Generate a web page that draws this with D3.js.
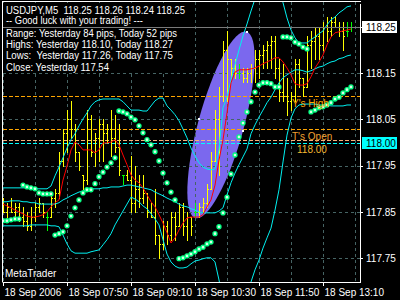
<!DOCTYPE html>
<html>
<head>
<meta charset="utf-8">
<script src="https://cdn.jsdelivr.net/npm/d3@7"></script>
<style>
  body { margin: 0; background: #000; }
  svg { display: block; }
  text { font-family: "Liberation Sans", Arial, sans-serif; }
</style>
</head>
<body>
<svg id="chart" width="400" height="300"></svg>
<script>
// ---- data (USDJPY M5, bar index 0 = 06:30) ----
const opens = [117.87,117.85,117.86,117.85,117.86,117.84,117.83,117.82,117.84,117.86,
  117.87,117.84,117.84,117.88,117.89,117.96,118.02,118.05,118.03,117.98,
  117.93,117.92,118.05,117.98,118.01,118.04,118.02,118.03,118.01,117.99,
  117.93,117.93,117.92,117.87,117.90,117.88,117.89,117.85,117.84,117.80,
  117.78,117.82,117.80,117.84,117.82,117.86,117.82,117.84,117.85,117.85,
  117.86,117.87,117.90,117.96,118.05,118.10,118.20,118.18,118.16,118.15,
  118.15,118.14,118.15,118.16,118.18,118.19,118.20,118.21,118.22,118.16,
  118.11,118.10,118.09,118.10,118.17,118.14,118.12,118.21,118.22,118.23,
  118.21,118.25,118.24,118.26,118.25,118.24,118.24,118.25];
const highs = [117.88,117.87,117.88,117.87,117.87,117.86,117.85,117.86,117.87,117.88,
  117.87,117.85,117.89,117.90,117.98,118.03,118.07,118.09,118.04,117.98,
  117.93,118.07,118.06,118.02,118.05,118.05,118.04,118.07,118.06,118.04,
  117.93,117.94,117.97,117.95,117.93,117.93,117.89,117.87,117.90,117.80,
  117.83,117.83,117.85,117.85,117.87,117.87,117.85,117.84,117.87,117.87,
  117.88,117.91,117.98,118.07,118.12,118.22,118.24,118.18,118.18,118.17,
  118.16,118.16,118.17,118.20,118.20,118.21,118.22,118.23,118.23,118.18,
  118.17,118.14,118.11,118.18,118.18,118.14,118.23,118.24,118.25,118.25,
  118.26,118.27,118.27,118.27,118.26,118.26,118.26,118.26];
const lows = [117.85,117.84,117.85,117.84,117.83,117.82,117.81,117.81,117.83,117.85,
  117.84,117.81,117.84,117.86,117.88,117.95,117.98,118.01,117.96,117.94,
  117.90,117.91,117.97,117.95,117.96,117.96,118.00,117.97,117.98,117.93,
  117.91,117.92,117.85,117.85,117.86,117.87,117.84,117.84,117.78,117.75,
  117.77,117.78,117.79,117.79,117.82,117.80,117.79,117.80,117.84,117.84,
  117.85,117.86,117.90,117.96,117.93,118.09,118.09,118.14,118.14,118.14,
  118.13,118.13,118.13,118.13,118.14,118.16,118.16,118.16,118.14,118.09,
  118.09,118.06,118.07,118.09,118.12,118.10,118.12,118.16,118.18,118.18,
  118.20,118.22,118.23,118.25,118.23,118.20,118.23,118.24];
const closes = [117.85,117.86,117.85,117.86,117.84,117.83,117.82,117.84,117.86,117.87,
  117.85,117.84,117.88,117.89,117.96,118.02,118.05,118.03,117.98,117.95,
  117.92,118.05,117.98,118.01,118.04,118.02,118.03,118.01,117.99,117.94,
  117.93,117.92,117.87,117.90,117.88,117.89,117.85,117.84,117.80,117.78,
  117.82,117.80,117.84,117.82,117.86,117.82,117.84,117.82,117.85,117.86,
  117.87,117.90,117.96,118.05,118.10,118.20,118.18,118.16,118.15,118.15,
  118.14,118.15,118.16,118.18,118.19,118.20,118.21,118.22,118.16,118.11,
  118.10,118.09,118.10,118.17,118.14,118.12,118.21,118.22,118.23,118.21,
  118.25,118.24,118.26,118.25,118.24,118.23,118.24,118.25];

// red moving average
const ma = [117.867,117.863,117.859,117.854,117.850,117.846,117.841,117.839,117.839,117.841,
  117.844,117.850,117.861,117.870,117.876,117.919,117.949,117.984,118.001,117.995,
  117.984,117.984,117.984,117.978,117.984,117.999,117.999,118.001,118.006,117.995,
  117.973,117.952,117.930,117.919,117.913,117.902,117.887,117.872,117.861,117.844,
  117.826,117.805,117.783,117.794,117.811,117.826,117.837,117.839,117.839,117.839,
  117.844,117.861,117.876,117.908,117.962,118.006,118.064,118.129,118.152,118.157,
  118.157,118.157,118.159,118.161,118.165,118.170,118.174,118.178,118.183,118.183,
  118.174,118.161,118.146,118.127,118.124,118.124,118.127,118.142,118.161,118.174,
  118.189,118.211,118.228,118.237,118.239,118.241,118.243,118.245];

// cyan bands
const bandUpper = [117.902,117.902,117.902,117.902,117.902,117.902,117.902,117.902,117.900,117.900,
  117.900,117.900,117.906,117.928,117.947,117.967,117.988,118.006,118.019,118.036,
  118.051,118.064,118.079,118.088,118.092,118.094,118.094,118.094,118.094,118.094,
  118.088,118.079,118.070,118.070,118.070,118.068,118.068,118.079,118.090,118.096,
  118.096,118.079,118.070,118.060,118.047,118.029,118.010,117.988,117.971,117.956,
  117.947,117.943,117.941,117.943,117.984,118.075,118.098,118.135,118.168,118.200,
  118.230,118.256,118.284,118.310,118.340,118.356,118.362,118.362,118.356,118.334,
  118.302,118.269,118.243,118.226,118.215,118.215,118.215,118.222,118.228,118.235,
  118.241,118.254,118.265,118.271,118.280,118.286,118.293,118.295];
const bandMiddle = [117.872,117.872,117.874,117.874,117.874,117.872,117.872,117.870,117.870,117.867,
  117.867,117.867,117.867,117.867,117.870,117.876,117.880,117.885,117.889,117.893,
  117.895,117.898,117.900,117.900,117.900,117.902,117.902,117.904,117.904,117.904,
  117.906,117.908,117.908,117.906,117.904,117.902,117.900,117.898,117.893,117.889,
  117.885,117.880,117.876,117.872,117.867,117.863,117.861,117.857,117.854,117.850,
  117.848,117.848,117.848,117.848,117.852,117.859,117.887,117.913,117.934,117.952,
  117.969,117.986,118.019,118.038,118.055,118.070,118.086,118.098,118.114,118.129,
  118.140,118.146,118.152,118.157,118.157,118.155,118.152,118.155,118.159,118.163,
  118.165,118.170,118.174,118.176,118.181,118.183,118.187,118.189];
const bandLower = [117.820,117.820,117.820,117.820,117.820,117.820,117.820,117.822,117.822,117.822,
  117.822,117.822,117.820,117.820,117.818,117.800,117.781,117.766,117.761,117.761,
  117.761,117.761,117.764,117.766,117.768,117.779,117.790,117.803,117.822,117.837,
  117.852,117.867,117.882,117.878,117.872,117.863,117.857,117.846,117.835,117.822,
  117.790,117.759,117.742,117.733,117.729,117.729,117.731,117.738,117.744,117.746,
  117.749,117.751,117.751,117.742,117.703,117.660,117.628,117.606,117.606,117.621,
  117.656,117.677,117.699,117.725,117.746,117.772,117.794,117.815,117.854,117.898,
  117.958,118.016,118.053,118.073,118.081,118.083,118.083,118.083,118.083,118.081,
  118.081,118.081,118.079,118.079,118.079,118.079,118.081,118.081];

// parabolic SAR dots
const sar = [117.831,117.831,117.833,117.835,117.835,117.908,117.904,117.902,117.900,117.891,
  117.889,117.889,117.889,117.800,117.803,117.807,117.820,117.841,117.859,117.876,
  117.891,117.898,117.898,117.911,117.926,117.936,117.947,117.956,117.967,118.068,
  118.066,118.062,118.055,118.049,118.036,118.021,118.006,117.995,117.980,117.960,
  117.934,117.913,117.893,117.876,117.749,117.751,117.755,117.759,117.764,117.770,
  117.774,117.781,117.785,117.803,117.818,117.848,117.882,117.932,117.973,118.012,
  118.042,118.066,118.088,118.109,118.124,118.129,118.129,118.127,118.120,118.120,
  118.228,118.228,118.226,118.217,118.213,118.206,118.202,118.066,118.070,118.075,
  118.077,118.081,118.086,118.094,118.098,118.107,118.114,118.120];

// axes
const priceTicks = [118.25, 118.15, 118.05, 117.95, 117.85, 117.75];
const gridBars = [0, 8, 16, 24, 32, 40, 48, 56, 64, 72, 80, 88];
const labelBars = [0, 16, 32, 48, 64, 80];
const timeLabels = ["18 Sep 2006", "18 Sep 07:50", "18 Sep 09:10", "18 Sep 10:30", "18 Sep 11:50", "18 Sep 13:10"];

// horizontal levels: yesterday high, unnamed level, today open, round level
const levelPrices = [118.10, 118.029, 118.006, 118.00];
const bidPrice = 118.25;
const markedPrice = 118.00;

// ellipse object anchors (bar index, price)
const ellipseBars = [49, 60, 61];
const ellipsePrices = [118.051, 118.025, 118.239];

const headerText = "USDJPY,M5  118.25 118.26 118.24 118.25";
const commentLines = ["-- Good luck with your trading! ---",
  "Range: Yesterday 84 pips, Today 52 pips",
  "Highs: Yesterday 118.10, Today 118.27",
  "Lows:  Yesterday 117.26, Today 117.75",
  "Close: Yesterday 117.54"];

// ---- drawing ----
const svg = d3.select("#chart");
svg.append("rect").attr("width", 400).attr("height", 300).attr("fill", "#000");

const x = d3.scaleLinear().domain([-0.25, 89.25]).range([2, 360]);
const y = d3.scaleLinear().domain([117.70, 118.30]).range([281.4, 3.6]);

svg.append("clipPath").attr("id", "plotclip")
  .append("rect").attr("x", 3).attr("y", 2).attr("width", 357).attr("height", 280);
const plot = svg.append("g").attr("clip-path", "url(#plotclip)");

// ellipse (background object)
const ep = ellipseBars.map((b, i) => [x(b), y(ellipsePrices[i])]);
const ecx = (ep[0][0] + ep[1][0]) / 2, ecy = (ep[0][1] + ep[1][1]) / 2;
const erx = Math.hypot(ep[1][0] - ep[0][0], ep[1][1] - ep[0][1]) / 2;
const ery = Math.hypot(ep[2][0] - ecx, ep[2][1] - ecy);
const eang = Math.atan2(ep[1][1] - ep[0][1], ep[1][0] - ep[0][0]) * 180 / Math.PI;
plot.append("ellipse")
  .attr("rx", erx).attr("ry", ery)
  .attr("transform", `translate(${ecx},${ecy}) rotate(${eang})`)
  .attr("fill", "#7b68ee");

// grid
const gridColor = "#466464";
plot.selectAll(".vgrid").data(gridBars).join("line")
  .attr("x1", d => Math.round(x(d)) + 0.5).attr("x2", d => Math.round(x(d)) + 0.5)
  .attr("y1", 2).attr("y2", 282)
  .attr("stroke", gridColor).attr("stroke-dasharray", "3,3");
plot.selectAll(".hgrid").data(priceTicks).join("line")
  .attr("x1", 3).attr("x2", 360)
  .attr("y1", d => Math.round(y(d)) + 0.5).attr("y2", d => Math.round(y(d)) + 0.5)
  .attr("stroke", gridColor).attr("stroke-dasharray", "3,3");

// level lines
const levelColors = ["#ffa500", "#ffa500", "#f6b27c", "#00ffff"];
plot.selectAll(".level").data(levelPrices).join("line")
  .attr("x1", 3).attr("x2", 360)
  .attr("y1", d => Math.round(y(d)) + 0.5).attr("y2", d => Math.round(y(d)) + 0.5)
  .attr("stroke", (d, i) => levelColors[i]).attr("stroke-dasharray", "4,2");

// ellipse anchor points
plot.selectAll(".anchor").data(ep).join("rect")
  .attr("x", d => Math.round(d[0]) - 1).attr("y", d => Math.round(d[1]) - 1)
  .attr("width", 2).attr("height", 2).attr("fill", "#fff");

// bars
const bars = plot.append("g").attr("shape-rendering", "crispEdges");
opens.forEach((o, i) => {
  const xi = Math.round(x(i));
  const yh = Math.round(y(highs[i])), yl = Math.round(y(lows[i]));
  const yo = Math.round(y(o)), yc = Math.round(y(closes[i]));
  bars.append("path")
    .attr("d", `M${xi + 0.5},${yh}V${yl + 1}M${xi - 1},${yo + 0.5}H${xi + 1}M${xi},${yc + 0.5}H${xi + 2}`)
    .attr("stroke", o === closes[i] ? "#00ff00" : "#ffff00")
    .attr("fill", "none");
});

// bands and MA
const line = d3.line().x((d, i) => x(i)).y(d => y(d));
[bandUpper, bandMiddle, bandLower].forEach(s => {
  plot.append("path").attr("d", line(s))
    .attr("fill", "none").attr("stroke", "#00f0f0").attr("stroke-width", 1);
});
plot.append("path").attr("d", line(ma))
  .attr("fill", "none").attr("stroke", "#ff0000").attr("stroke-width", 1);

// bid line
plot.append("line")
  .attr("x1", 3).attr("x2", 360)
  .attr("y1", Math.round(y(bidPrice)) + 0.5).attr("y2", Math.round(y(bidPrice)) + 0.5)
  .attr("stroke", "#7a7a7a");

// SAR
plot.selectAll(".sar").data(sar).join("circle")
  .attr("cx", (d, i) => x(i)).attr("cy", d => y(d)).attr("r", 2)
  .attr("fill", "#d8ffe8").attr("stroke", "#00ff80").attr("stroke-width", 1.3);

// level labels
plot.append("text").attr("x", x(72) + 1).attr("y", y(levelPrices[0]) + 11)
  .attr("font-size", 10).attr("fill", "#ffa500").text("Y's High");
plot.append("text").attr("x", x(72) + 1).attr("y", y(levelPrices[2]))
  .attr("font-size", 10).attr("fill", "#f0a030").text("T's Open");
plot.append("text").attr("x", x(73) + 2).attr("y", y(levelPrices[2]) + 13)
  .attr("font-size", 10).attr("fill", "#f4b830").text("118.00");

// comment block
svg.append("rect").attr("x", 3).attr("y", 3).attr("width", 178).attr("height", 69).attr("fill", "#000");
svg.append("line")
  .attr("x1", 3).attr("x2", 181)
  .attr("y1", Math.round(y(bidPrice)) + 0.5).attr("y2", Math.round(y(bidPrice)) + 0.5)
  .attr("stroke", "#7a7a7a");
svg.append("text").attr("x", 6).attr("y", 14).attr("font-size", 10).attr("fill", "#fff")
  .attr("textLength", 179).attr("lengthAdjust", "spacingAndGlyphs")
  .style("white-space", "pre").text(headerText);
const commentY = [24, 37, 48, 59, 71];
const commentW = [137, 171, 167, 167, 103];
svg.selectAll(".comment").data(commentLines).join("text")
  .attr("x", 6).attr("y", (d, i) => commentY[i])
  .attr("font-size", 10).attr("fill", "#fff")
  .attr("textLength", (d, i) => commentW[i]).attr("lengthAdjust", "spacingAndGlyphs")
  .style("white-space", "pre").text(d => d);

svg.append("text").attr("x", 5).attr("y", 277).attr("font-size", 10).attr("fill", "#fff").text("MetaTrader");

// axes
const yAxis = svg.append("g").attr("transform", "translate(360,0)")
  .call(d3.axisRight(y).tickValues(priceTicks).tickSize(3).tickSizeOuter(0).tickFormat(d3.format(".2f")));
const xAxis = svg.append("g").attr("transform", "translate(0,282)")
  .call(d3.axisBottom(x).tickValues(labelBars).tickSize(4).tickSizeOuter(0).tickFormat((d, i) => timeLabels[i]));
[yAxis, xAxis].forEach(g => {
  g.selectAll("path,line").attr("stroke", "#fff").attr("shape-rendering", "crispEdges");
  g.selectAll("text").attr("fill", "#fff").attr("font-size", 10)
    .attr("font-family", "'Liberation Sans', Arial, sans-serif");
});
xAxis.selectAll("text").attr("text-anchor", "start").attr("x", 1);

// left frame
svg.append("line").attr("x1", 2.5).attr("x2", 2.5).attr("y1", 2).attr("y2", 282.5)
  .attr("stroke", "#fff");
svg.append("line").attr("x1", 2).attr("x2", 361).attr("y1", 1.5).attr("y2", 1.5)
  .attr("stroke", "#fff");

// bid and marked price boxes on the axis
const boxes = [{p: bidPrice, fill: "#ffffff"}, {p: markedPrice, fill: "#00ffff"}];
boxes.forEach(b => {
  const yy = Math.round(y(b.p));
  svg.append("rect").attr("x", 362).attr("y", yy - 6).attr("width", 35).attr("height", 12).attr("fill", b.fill);
  svg.append("text").attr("x", 366).attr("y", yy + 4).attr("font-size", 10).attr("fill", "#000")
    .text(d3.format(".2f")(b.p));
});
</script>
</body>
</html>
